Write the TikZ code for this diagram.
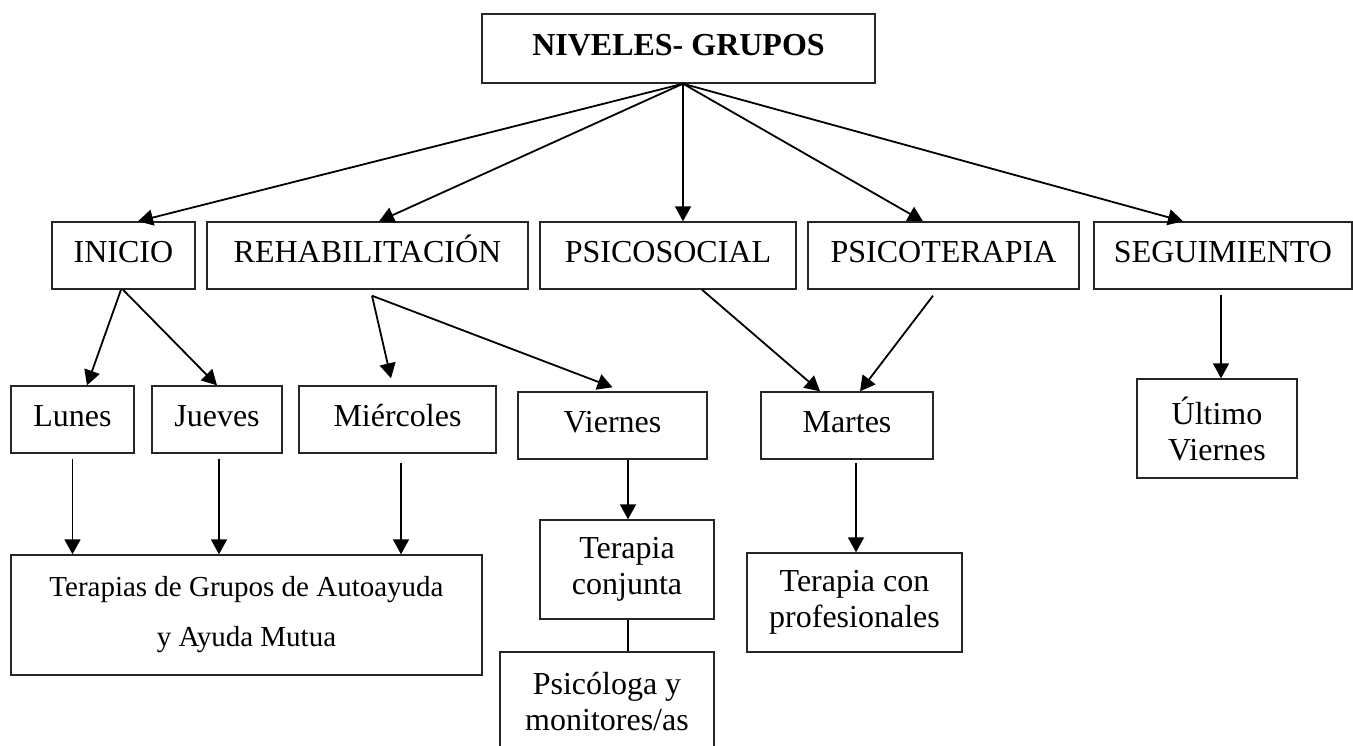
\documentclass[tikz,border=0pt]{standalone}
\usepackage{fontspec}
\setmainfont{Liberation Serif}
\usepackage{tikz}
\usetikzlibrary{arrows.meta,calc}
\tikzset{
	caja/.style = {
		draw           = black!85,
		line width     = 0.7pt,
		inner sep      = 0pt,
		align          = center,
		font           = \fontsize{16}{18}\selectfont,
		minimum height = 33.5pt
	},
	simple/.style  = {text height = 10pt, text depth = 3pt},
	alta/.style    = {minimum height = 49.5pt},
	flecha/.style  = {-{Triangle[length=7.5pt,width=8pt]}, line width = 0.9pt},
	linea/.style   = {line width = 0.9pt}
}

\begin{document}
\begin{tikzpicture}[x = 0.5pt, y = -0.5pt]
	\useasboundingbox (0,0) rectangle (1353,745);
	% nivel superior
	\node(titulo) [caja, simple, font = \bfseries\fontsize{16}{18}\selectfont,
		minimum width = 196.5pt, minimum height = 34.5pt] at (678.5,48.5) {NIVELES- GRUPOS};
	% niveles
	\node(inicio) [caja, simple, minimum width = 71.5pt]  at (123.5,255.5) {INICIO};
	\node(rehab)  [caja, simple, minimum width = 160.5pt] at (367.5,255.5) {REHABILITACIÓN};
	\node(psicosocial) [caja, simple, minimum width = 128pt] at (668,255.5) {PSICOSOCIAL};
	\node(psicoterapia) [caja, simple, minimum width = 135.5pt] at (943.5,255.5) {PSICOTERAPIA};
	\node(seguimiento) [caja, simple, minimum width = 129pt] at (1223,255.5) {SEGUIMIENTO};
	% dias
	\node(lunes)     [caja, simple, minimum width = 61.5pt] at (72.5,419.5) {Lunes};
	\node(jueves)    [caja, simple, minimum width = 65pt]   at (217,419.5) {Jueves};
	\node(miercoles) [caja, simple, minimum width = 98.5pt] at (397.5,419.5) {Miércoles};
	\node(viernes)   [caja, simple, minimum width = 94.5pt] at (612.5,425.5) {Viernes};
	\node(martes)    [caja, simple, minimum width = 86pt]   at (847,425.5) {Martes};
	\node(ultimo)    [caja, alta, minimum width = 80pt] at (1217,428.5) {Último\\Viernes};
	% terapias
	\node(autoayuda) [caja, font = \fontsize{14.5}{25}\selectfont,
		minimum width = 235.5pt, minimum height = 60pt] at (246.5,615)
		{Terapias de Grupos de Autoayuda\\y Ayuda Mutua};
	\node(conjunta)  [caja, alta, minimum width = 87pt] at (627,569.5) {Terapia\\conjunta};
	\node(psicologa) [caja, alta, minimum width = 107pt] at (607,701.5) {Psicóloga y\\monitores/as};
	\node(profesionales) [caja, alta, minimum width = 107.5pt] at (854.5,602.5) {Terapia con\\profesionales};
	
	% flechas desde el titulo
	\foreach \destino/\dx in {inicio/7.25pt, rehab/5.75pt, psicosocial/7.5pt, psicoterapia/-10.25pt, seguimiento/-20pt}
		\draw[flecha] ([xshift=2.25pt]titulo.south) -- ([xshift=\dx]\destino.north);
	% flechas hacia los dias
	\draw[flecha] ([xshift=-1.25pt]inicio.south) -- ([xshift=7.25pt]lunes.north);
	\draw[flecha] ([xshift=-0.25pt]inicio.south) -- (jueves.north);
	\draw[flecha] ([shift={(2.25pt,-3pt)}]rehab.south) -- ([shift={(-3.25pt,3.5pt)}]miercoles.north);
	\draw[flecha] ([shift={(2.25pt,-3pt)}]rehab.south) -- ([yshift=2pt]viernes.north);
	\draw[flecha] ([xshift=17pt]psicosocial.south) -- ([xshift=-13.5pt]martes.north);
	\draw[flecha] ([shift={(-5.25pt,-3pt)}]psicoterapia.south) -- ([xshift=6.5pt]martes.north);
	\draw[flecha] ([shift={(-1pt,-2.5pt)}]seguimiento.south) -- ([xshift=2pt]ultimo.north);
	% flechas hacia las terapias
	\draw[flecha] ([yshift=-2.5pt]lunes.south) -- (lunes.south |- autoayuda.north);
	\draw[flecha] ([shift={(1pt,-2.5pt)}]jueves.south) -- ([xshift=-13.75pt]autoayuda.north);
	\draw[flecha] ([shift={(1.75pt,-4.5pt)}]miercoles.south) -- ([xshift=77.25pt]autoayuda.north);
	\draw[flecha] ([xshift=7.75pt]viernes.south) -- ([xshift=0.5pt]conjunta.north);
	\draw[flecha] ([shift={(4.5pt,-1.5pt)}]martes.south) -- ([xshift=0.75pt]profesionales.north);
	\draw[linea] ([xshift=0.5pt]conjunta.south) -- ([xshift=0.5pt]conjunta.south |- psicologa.north);
\end{tikzpicture}
\end{document}
